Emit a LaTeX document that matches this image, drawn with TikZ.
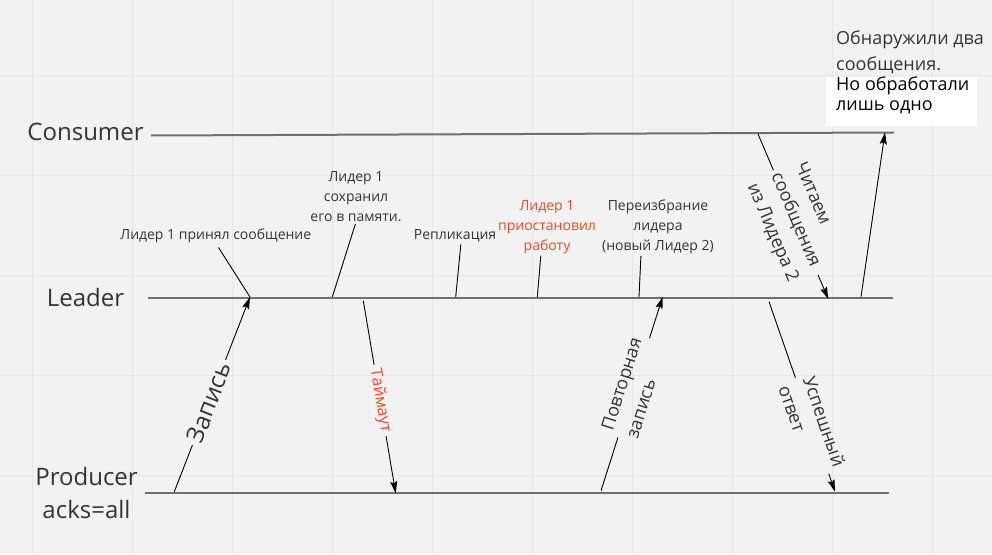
\documentclass[tikz,border=0pt]{standalone}
\usepackage{fontspec}
\setmainfont{Open Sans}
\usetikzlibrary{arrows.meta,positioning,calc}
\definecolor{boardbg}{HTML}{F2F2F2}
\definecolor{boardgrid}{HTML}{E6E6E6}
\definecolor{lifegray}{HTML}{707070}
\definecolor{labeltext}{HTML}{333333}
\definecolor{alertred}{HTML}{F24726}
\tikzset{
    % Participant title
    actorlabel/.style={
        font=\fontsize{24}{33}\selectfont,
        text=labeltext,
        inner sep=0pt
    },
    % Lifeline
    lifeline/.style={
        draw=lifegray,
        line width=2pt
    },
    % Event label over the leader line
    eventlabel/.style={
        font=\fontsize{14}{20}\selectfont,
        text=#1,
        align=center,
        inner sep=0pt
    },
    eventlabel/.default=labeltext,
    % Pointer from an event label down to the lifeline
    pointer/.style={
        draw=black,
        line width=0.9pt,
        shorten <=#1
    },
    pointer/.default=5pt,
    % Message line
    msgline/.style={
        draw=black,
        line width=0.9pt
    },
    msgarrow/.style={
        msgline,
        -{Stealth[length=12pt,width=7pt,inset=2pt]}
    },
    % Label cut into a message line
    msglabel/.style={
        sloped,
        font=\fontsize{18}{26}\selectfont,
        text=#1,
        align=left,
        inner xsep=4pt,
        inner ysep=1pt
    },
    msglabel/.default=labeltext,
    % Note text, top right
    notetext/.style={
        font=\fontsize{18}{#1}\selectfont,
        align=left,
        inner sep=0pt
    }
}
\begin{document}
\begin{tikzpicture}[x=1pt, y=-1pt]

    % Board with grid
    \fill[boardbg] (0,0) rectangle (992,554);
    \useasboundingbox (0,0) rectangle (992,554);
    \foreach \gx in {32,132,...,932} \draw[boardgrid, line width=1pt] (\gx,0) -- (\gx,554);
    \foreach \gy in {75,175,...,475} \draw[boardgrid, line width=1pt] (0,\gy) -- (992,\gy);

    % Lifelines
    \coordinate (consL) at (151,135.5);
    \coordinate (consR) at (894,132.5);
    \coordinate (leadL) at (148,298);
    \coordinate (leadR) at (893,298);
    \coordinate (prodL) at (145,492.5);
    \coordinate (prodR) at (889,492.5);
    \draw[lifeline] (consL) -- (consR);
    \draw[lifeline] (leadL) -- (leadR);
    \draw[lifeline] (prodL) -- (prodR);

    % Participants
    \node[actorlabel, anchor=base] (consumer) at (85.5,140) {Consumer};
    \node[actorlabel, anchor=base] (leader) at (85.5,306) {Leader};
    \node[actorlabel, anchor=base] (producer) at (86.5,485) {Producer};
    \node[actorlabel, anchor=base] (acks) at ([yshift=-33pt]producer.base) {acks=all};

    % Events on the leader line
    \coordinate (evAccept) at (250,297);
    \coordinate (evStore) at (332.3,297);
    \coordinate (evRepl) at (455.7,297);
    \coordinate (evPause) at (537.3,297);
    \coordinate (evElect) at (639,297);
    \node[eventlabel] (accepted) at (215.8,236) {Лидер 1 принял сообщение};
    \node[eventlabel] (stored) at (356,196.7) {Лидер 1\\сохранил\\его в памяти.};
    \node[eventlabel] (replication) at (455,236) {Репликация};
    \node[eventlabel=alertred] (paused) at (547,226.7) {Лидер 1\\приостановил\\работу};
    \node[eventlabel] (reelect) at (658,226.7) {Переизбрание\\лидера\\(новый Лидер 2)};
    \draw[pointer] (accepted.south) -- (evAccept);
    \draw[pointer=2pt] (stored.south) -- (evStore);
    \draw[pointer=2pt] ([xshift=6pt]replication.south) -- (evRepl);
    \draw[pointer=2pt] ([xshift=-6pt]paused.south) -- (evPause);
    \draw[pointer=2pt] ([xshift=-17pt]reelect.south) -- (evElect);

    % Messages
    \coordinate (wrP) at (174.3,491.7);
    \coordinate (wrL) at (250,297);
    \coordinate (toL) at (363.3,300.7);
    \coordinate (toP) at (395.7,493.3);
    \coordinate (rwP) at (601,490.7);
    \coordinate (rwL) at (662.7,296.7);
    \coordinate (rdC) at (758,134);
    \coordinate (rdL) at (828.3,299);
    \coordinate (okL) at (769,301.7);
    \coordinate (okP) at (835,491.7);
    \coordinate (dlL) at (861,296.7);
    \coordinate (dlC) at (885,132.3);

    \path (wrP) -- node[msglabel, pos=0.459, font=\fontsize{24}{32}\selectfont] (write) {Запись} (wrL);
    \draw[msgline] (wrP) -- (write);
    \draw[msgarrow] (write) -- (wrL);

    \path (toL) -- node[msglabel=alertred, pos=0.518, font=\fontsize{16}{22}\selectfont] (timeout) {Таймаут} (toP);
    \draw[msgline] (toL) -- (timeout);
    \draw[msgarrow] (timeout) -- (toP);

    \path (rwP) -- node[msglabel, pos=0.53] (rewrite) {Повторная\\запись} (rwL);
    \draw[msgline] (rwP) -- (rewrite);
    \draw[msgarrow] (rewrite) -- (rwL);

    \path (rdC) -- node[msglabel, pos=0.537] (read) {Читаем\\сообщения\\из Лидера 2} (rdL);
    \draw[msgline] (rdC) -- (read);
    \draw[msgarrow] (read) -- (rdL);

    \path (okL) -- node[msglabel, pos=0.653] (success) {Успешный\\ответ} (okP);
    \draw[msgline] (okL) -- (success);
    \draw[msgarrow] (success) -- (okP);

    \draw[msgarrow] (dlL) -- (dlC);

    % Note
    \node[fill=white, minimum width=151pt, minimum height=48.5pt, anchor=north west, inner sep=0pt] (notebox) at (826,77) {};
    \node[notetext=25.7, text=labeltext, anchor=north west] (found) at (836,30.5) {Обнаружили два\\сообщения.};
    \node[notetext=20, text=black, anchor=north west] (handled) at (836,77) {Но обработали\\лишь одно};

\end{tikzpicture}
\end{document}
